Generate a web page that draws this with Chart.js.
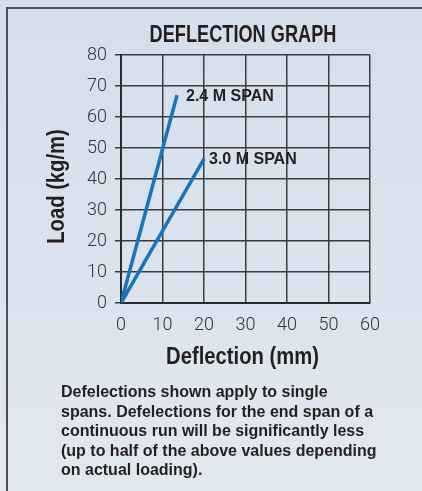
<!DOCTYPE html>
<html>
<head>
<meta charset="utf-8">
<script src="https://cdn.jsdelivr.net/npm/chart.js@4.4.1/dist/chart.umd.min.js"></script>
<style>
  html, body { margin: 0; padding: 0; }
  body {
    width: 422px; height: 491px; overflow: hidden; position: relative;
    background: linear-gradient(180deg, #d4dfeb 0%, #dae3ee 55%, #e2e8f0 100%);
  }
  .panel {
    position: absolute; left: 6px; top: 7px; width: 460px; height: 520px;
    border-left: 2px solid #4b4e56; border-top: 2px solid #4b4e56;
  }
  #wrap { position: absolute; left: 0; top: 0; width: 422px; height: 491px; }
  .note {
    position: absolute; left: 61px; top: 382px; white-space: nowrap;
    font-family: 'Liberation Sans', Arial, sans-serif; font-weight: bold;
    font-size: 16px; line-height: 19.5px; color: #231f20;
  }
</style>
</head>
<body>
<div class="panel"></div>
<div id="wrap"><canvas id="chart" width="422" height="491"></canvas></div>
<div class="note">Defelections shown apply to single<br>spans. Defelections for the end span of a<br>continuous run will be significantly less<br>(up to half of the above values depending<br>on actual loading).</div>
<script>
// Deflection (mm) against load (kg/m) for each span length
const span24Deflection = [0, 13.5];
const span24Load = [0, 67];
const span30Deflection = [0, 20];
const span30Load = [0, 46.5];
const seriesNames = ['2.4 M SPAN', '3.0 M SPAN'];
const xTicks = [0, 10, 20, 30, 40, 50, 60];
const yTicks = [0, 10, 20, 30, 40, 50, 60, 70, 80];

const toPoints = (xs, ys) => xs.map((x, i) => ({ x: x, y: ys[i] }));
const boldSans = "'Liberation Sans', Arial, sans-serif";

// Condensed bold heading text: a bold sans squeezed horizontally
function condensedText(ctx, text, x, y, size, squeeze, angle) {
  ctx.save();
  ctx.translate(x, y);
  if (angle) ctx.rotate(angle);
  ctx.scale(squeeze, 1);
  ctx.font = 'bold ' + size + 'px ' + boldSans;
  ctx.textAlign = 'center';
  ctx.textBaseline = 'alphabetic';
  ctx.fillText(text, 0, 0);
  ctx.restore();
}

// Chart heading, axis titles and the series names at the end of each line
const annotate = {
  id: 'annotate',
  afterDatasetsDraw(chart) {
    const ctx = chart.ctx;
    const area = chart.chartArea;
    ctx.save();
    ctx.fillStyle = '#231f20';
    condensedText(ctx, 'DEFLECTION GRAPH', 243, 42, 23.3, 0.78, 0);
    condensedText(ctx, 'Deflection (mm)', (area.left + area.right) / 2 - 3, 364, 24.5, 0.826, 0);
    condensedText(ctx, 'Load (kg/m)', 64, (area.top + area.bottom) / 2 + 7.5, 24.5, 0.826, -Math.PI / 2);

    ctx.font = 'bold 16px ' + boldSans;
    ctx.textAlign = 'left';
    ctx.textBaseline = 'middle';
    chart.data.datasets.forEach((ds, i) => {
      const meta = chart.getDatasetMeta(i);
      const last = meta.data[meta.data.length - 1];
      ctx.fillText(ds.label, last.x + ds.labelGap, last.y + 1);
    });
    ctx.restore();
  }
};

new Chart(document.getElementById('chart'), {
  type: 'scatter',
  data: {
    datasets: [
      { label: seriesNames[0], data: toPoints(span24Deflection, span24Load), labelGap: 9 },
      { label: seriesNames[1], data: toPoints(span30Deflection, span30Load), labelGap: 5 }
    ].map(d => Object.assign(d, {
      showLine: true, borderColor: '#1774bd', borderWidth: 3.5,
      pointRadius: 0, borderCapStyle: 'butt'
    }))
  },
  options: {
    responsive: false,
    animation: false,
    devicePixelRatio: 1,
    layout: { padding: { top: 55, left: 0, right: 52, bottom: 118 } },
    plugins: { legend: { display: false }, tooltip: { enabled: false }, title: { display: false } },
    scales: {
      x: {
        type: 'linear', min: xTicks[0], max: xTicks[xTicks.length - 1],
        afterFit(s) { s.height = 70; },
        afterBuildTicks(s) { s.ticks = xTicks.map(v => ({ value: v })); },
        grid: { color: '#3c3c3c', lineWidth: 1.5, drawTicks: false },
        border: { color: '#2b2b2b', width: 2 },
        ticks: { padding: 12, color: '#333333',
          font: { family: 'Roboto', weight: 300, size: 18 } }
      },
      y: {
        type: 'linear', min: yTicks[0], max: yTicks[yTicks.length - 1],
        afterFit(s) { s.width = 121; },
        afterBuildTicks(s) { s.ticks = yTicks.map(v => ({ value: v })); },
        grid: { color: '#3c3c3c', lineWidth: 1.5, tickLength: 6 },
        border: { color: '#2b2b2b', width: 2 },
        ticks: { padding: 8, color: '#333333',
          font: { family: 'Roboto', weight: 300, size: 18 } }
      }
    }
  },
  plugins: [annotate]
});
</script>
</body>
</html>
